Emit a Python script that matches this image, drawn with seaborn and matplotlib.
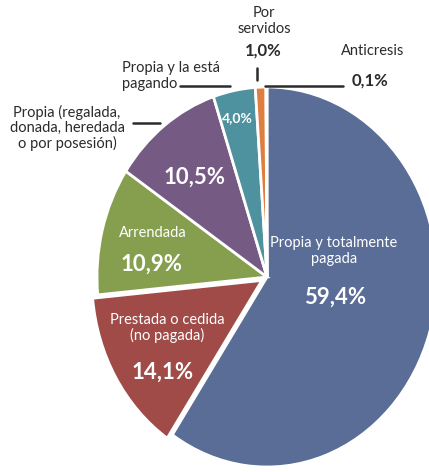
import matplotlib
matplotlib.use("Agg")
import matplotlib.pyplot as plt
from matplotlib.lines import Line2D
import seaborn as sns

# tenencia de la vivienda (%)
categories = ["Propia y totalmente pagada", "Prestada o cedida (no pagada)", "Arrendada",
              "Propia (regalada, donada, heredada o por posesión)", "Propia y la está pagando",
              "Por servidos", "Anticresis"]
values = [59.4, 14.1, 10.9, 10.5, 4.0, 1.0, 0.1]
pct_labels = ["59,4%", "14,1%", "10,9%", "10,5%", "4,0%", "1,0%", "0,1%"]
colors = ["#5A6D97", "#A04B47", "#859F4F", "#755A83", "#4F929F", "#DE7F42", "#9A9A9A"]
explode = [0, 0.035, 0, 0, 0, 0, 0]

W, H = 429, 472
CX, CY = 267, 277      # pie centre (pixels, from top-left)
RX, RY = 170, 190      # pie is slightly stretched vertically

sns.set_theme(style="white")
plt.rcParams['font.family'] = ['Lato', 'DejaVu Sans']

fig = plt.figure(figsize=(W / 100, H / 100), dpi=100)
ax = fig.add_axes([0, 0, 1, 1])
ax.pie(values, colors=colors, startangle=90, counterclock=False, explode=explode,
       wedgeprops=dict(edgecolor="white", linewidth=2))
ax.set_aspect("auto")
ax.set_xlim(-CX / RX, (W - CX) / RX)
ax.set_ylim(-(H - CY) / RY, CY / RY)
ax.axis("off")


def fp(x, y):
    return x / W, 1 - y / H


def txt(x, y, s, size, color="white", bold=False, ha="center"):
    fx, fy = fp(x, y)
    fig.text(fx, fy, s, fontsize=size, color=color, ha=ha, va="center",
             fontweight="bold" if bold else "normal", linespacing=1.1)


def line(x0, y0, x1, y1):
    a, b = fp(x0, y0)
    c, d = fp(x1, y1)
    fig.add_artist(Line2D([a, c], [b, d], color="#2b2b2b", lw=1.8))


dark = "#2b2b2b"

# inside labels
txt(334, 251, "Propia y totalmente\npagada", 10.5)
txt(335, 297, pct_labels[0], 16, bold=True)
txt(167, 328, "Prestada o cedida\n(no pagada)", 10.5)
txt(163, 372, pct_labels[1], 16, bold=True)
txt(153, 233, "Arrendada", 10.5)
txt(152, 264, pct_labels[2], 16, bold=True)
txt(195, 177, pct_labels[3], 16, bold=True)
txt(237, 118, pct_labels[4], 10, bold=True)

# outside labels
txt(67, 128, "Propia (regalada,\ndonada, heredada\no por posesión)", 10.5, color=dark)
line(133, 123, 160, 123)
txt(122, 76, "Propia y la está\npagando", 10.5, color=dark, ha="left")
line(180, 86, 230, 86)
txt(264, 21, "Por\nservidos", 10.5, color=dark)
txt(263, 51, pct_labels[5], 12, color=dark, bold=True)
line(257, 68, 257, 80)
txt(373, 51, "Anticresis", 10.5, color=dark)
txt(370, 81, pct_labels[6], 12, color=dark, bold=True)
line(265, 86, 343, 86)

fig.savefig("out.png", dpi=100)
